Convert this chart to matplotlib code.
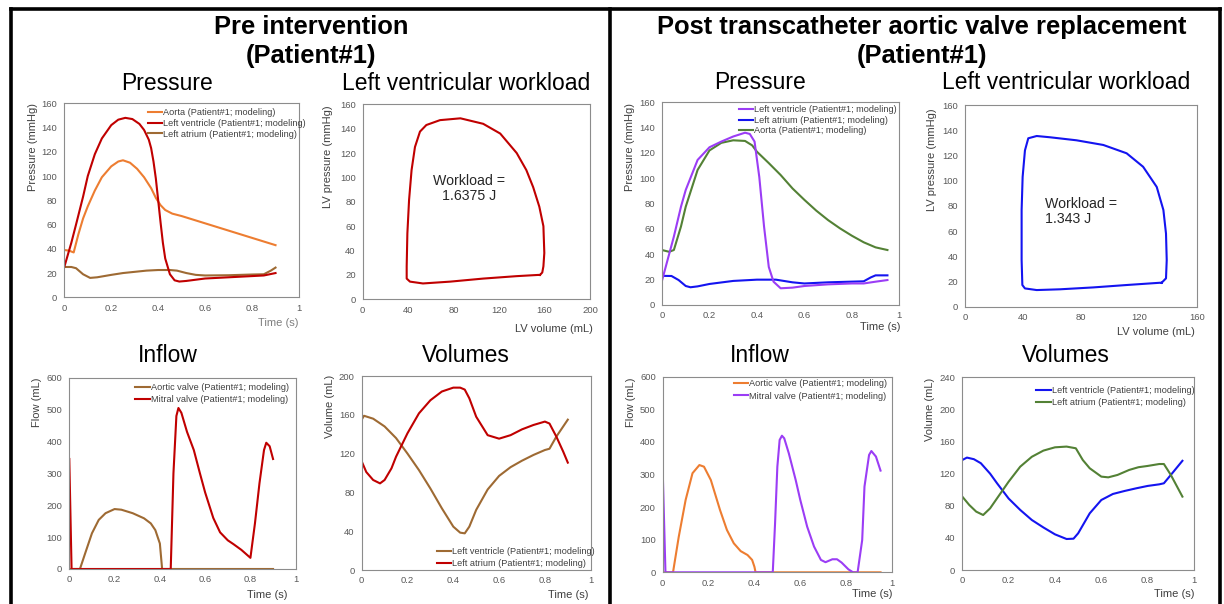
import matplotlib
matplotlib.use("Agg")
import matplotlib.pyplot as plt
from matplotlib.lines import Line2D

plt.rcParams['font.family'] = ['Liberation Sans', 'DejaVu Sans']

# ---------------- DATA ----------------
# Pre intervention - Pressure
pre_p_aorta_t = [0, 0.02, 0.04, 0.06, 0.08, 0.10, 0.13, 0.16, 0.20, 0.23, 0.25, 0.28, 0.31, 0.34, 0.37, 0.39, 0.41, 0.43, 0.46, 0.50, 0.60, 0.70, 0.80, 0.90]
pre_p_aorta   = [39, 38.5, 37, 52, 65, 75, 88, 99, 108, 112, 113, 111, 106, 99, 90, 82, 76, 72, 69, 67, 61, 55, 49, 43]
pre_p_lv_t = [0, 0.03, 0.05, 0.08, 0.10, 0.13, 0.16, 0.20, 0.23, 0.26, 0.29, 0.32, 0.34, 0.36, 0.37, 0.38, 0.39, 0.40, 0.41, 0.42, 0.43, 0.45, 0.47, 0.49, 0.52, 0.60, 0.70, 0.80, 0.85, 0.90]
pre_p_lv   = [25, 45, 60, 83, 100, 118, 131, 142, 146.5, 148, 147, 143, 138, 130, 123, 112, 98, 80, 62, 45, 32, 19, 14, 13, 13.5, 15.5, 16.5, 17.5, 18, 20]
pre_p_la_t = [0, 0.03, 0.05, 0.08, 0.11, 0.14, 0.20, 0.25, 0.30, 0.35, 0.40, 0.45, 0.48, 0.52, 0.56, 0.60, 0.70, 0.80, 0.85, 0.88, 0.90]
pre_p_la   = [25, 25, 24, 19, 16, 16.5, 18.5, 20, 21, 22, 22.5, 22.5, 22, 20, 18.5, 18, 18.2, 18.8, 19, 22, 24.5]

# Pre intervention - PV loop
pre_pv_vol = [156, 158, 159, 159.8, 159, 155.4, 150, 144, 135.5, 121, 106, 86, 68, 56, 50.4, 46, 43, 40.8, 39.3, 38.7, 38.7, 41.6, 53, 77, 106, 135.5, 154.5, 156]
pre_pv_prs = [20, 22, 27, 38, 60, 76, 92, 106, 120, 136, 144, 148.5, 147, 143, 137.6, 125, 106, 81.5, 54, 27, 17, 14.5, 13, 14.5, 17, 19, 20, 20]

# Pre intervention - Inflow
pre_f_aortic_t = [0, 0.047, 0.07, 0.10, 0.13, 0.16, 0.20, 0.23, 0.28, 0.33, 0.36, 0.38, 0.40, 0.41, 0.45, 0.90]
pre_f_aortic   = [0, 0, 49, 112, 154, 175, 188, 186, 175, 159, 143, 122, 80, 0, 0, 0]
pre_f_mitral_t = [0, 0.01, 0.448, 0.46, 0.473, 0.482, 0.495, 0.52, 0.55, 0.577, 0.60, 0.636, 0.666, 0.70, 0.725, 0.76, 0.80, 0.82, 0.84, 0.86, 0.87, 0.885, 0.90]
pre_f_mitral   = [345, 0, 0, 300, 480, 505, 490, 430, 373, 300, 240, 160, 115, 90, 78, 60, 35, 143, 269, 373, 396, 385, 345]

# Pre intervention - Volumes
pre_v_t = [0, 0.01, 0.05, 0.10, 0.15, 0.20, 0.25, 0.30, 0.35, 0.40, 0.43, 0.45, 0.47, 0.50, 0.55, 0.60, 0.65, 0.70, 0.75, 0.80, 0.82, 0.85, 0.90]
pre_v_lv = [155, 159, 156, 148, 136, 120, 103, 84, 63.6, 44.7, 38.5, 37.8, 44.7, 62, 83, 97, 106, 112.7, 118.6, 123.7, 125, 137.5, 155]
pre_v_la_t = [0, 0.02, 0.05, 0.08, 0.10, 0.13, 0.15, 0.20, 0.25, 0.30, 0.35, 0.40, 0.43, 0.45, 0.47, 0.50, 0.55, 0.60, 0.65, 0.70, 0.75, 0.80, 0.82, 0.85, 0.88, 0.90]
pre_v_la = [112, 101, 92.8, 89.3, 92.8, 104.8, 116.8, 141, 161.5, 175, 184, 188, 188, 186, 177, 158, 139, 135.4, 139, 145, 149.5, 153, 151, 137.5, 122, 110.7]

# Post TAVR - Pressure
post_p_lv_t = [0, 0.05, 0.08, 0.10, 0.15, 0.20, 0.25, 0.30, 0.35, 0.37, 0.39, 0.41, 0.43, 0.45, 0.47, 0.50, 0.55, 0.60, 0.70, 0.80, 0.85, 0.90, 0.95]
post_p_lv   = [19.2, 54, 77.6, 90.8, 114.5, 124.5, 129, 133, 136, 135, 129, 101, 62, 30, 18.4, 13.2, 13.7, 15, 16.3, 17, 17, 18.4, 19.7]
post_p_ao_t = [0, 0.03, 0.05, 0.08, 0.10, 0.15, 0.20, 0.25, 0.30, 0.35, 0.38, 0.40, 0.45, 0.50, 0.55, 0.60, 0.65, 0.70, 0.75, 0.80, 0.85, 0.90, 0.95]
post_p_ao   = [43.4, 42, 43.4, 62, 77.6, 106.6, 122, 128, 130, 129.5, 126, 121, 112, 102.6, 92, 83, 74.5, 67, 60.5, 54.7, 49.5, 45.5, 43.4]
post_p_la_t = [0, 0.04, 0.07, 0.10, 0.12, 0.15, 0.20, 0.30, 0.40, 0.48, 0.55, 0.60, 0.70, 0.85, 0.88, 0.90, 0.95]
post_p_la   = [23, 22.9, 19.7, 15, 14, 14.7, 16.6, 19, 20, 20, 17.9, 17, 17.9, 18.7, 21.8, 23.4, 23.4]

# Post TAVR - PV loop
post_pv_vol = [135.8, 138.8, 139.3, 138.8, 137, 132.4, 123, 111.6, 95.5, 77, 58.7, 49.5, 43.7, 41.4, 39.8, 39.1, 39.1, 39.6, 41.4, 49.5, 65.6, 88.6, 111.6, 134.7, 135.8]
post_pv_prs = [19, 22.5, 37, 58, 76.7, 95, 111, 121.7, 128.3, 132, 134.4, 135.4, 133.6, 124, 103, 76.7, 37, 17.2, 14.5, 13.2, 13.8, 15.3, 17.2, 19, 19]

# Post TAVR - Inflow
post_f_aortic_t = [0, 0.045, 0.07, 0.10, 0.13, 0.16, 0.18, 0.21, 0.25, 0.28, 0.31, 0.34, 0.37, 0.39, 0.40, 0.405, 0.50, 0.95]
post_f_aortic   = [0, 0, 109, 222, 304, 329, 324, 283, 191, 130, 89, 65, 53, 38, 17, 0, 0, 0]
post_f_mitral_t = [0, 0.012, 0.48, 0.49, 0.50, 0.51, 0.52, 0.53, 0.55, 0.58, 0.60, 0.63, 0.66, 0.69, 0.71, 0.74, 0.76, 0.78, 0.81, 0.83, 0.85, 0.87, 0.88, 0.90, 0.91, 0.93, 0.95]
post_f_mitral   = [312, 0, 0, 150, 324, 406, 419, 411, 365, 283, 222, 140, 79, 38, 31, 40, 40, 30, 9, 0, 0, 99, 263, 360, 372, 355, 312]

# Post TAVR - Volumes
post_v_lv_t = [0, 0.02, 0.05, 0.08, 0.12, 0.15, 0.20, 0.25, 0.30, 0.35, 0.40, 0.45, 0.48, 0.50, 0.55, 0.60, 0.65, 0.70, 0.75, 0.80, 0.85, 0.87, 0.90, 0.95]
post_v_lv   = [137, 140, 138, 133, 120, 108, 89, 74.8, 62.3, 53, 44.4, 38.6, 39, 45.7, 70.6, 87.2, 94.7, 98.4, 101.7, 104.7, 106.7, 108, 118.4, 136]
post_v_la_t = [0, 0.03, 0.06, 0.09, 0.12, 0.15, 0.20, 0.25, 0.30, 0.35, 0.40, 0.45, 0.49, 0.52, 0.55, 0.60, 0.63, 0.67, 0.72, 0.76, 0.80, 0.85, 0.87, 0.90, 0.95]
post_v_la   = [91.4, 81, 72.7, 68.5, 76.8, 89.3, 110, 128.7, 141, 148.7, 152.8, 153.7, 151.6, 137, 126.7, 116.3, 115.4, 118.4, 124.6, 128, 129.6, 132, 132, 118.4, 91.4]

time_ticks = [0, 0.2, 0.4, 0.6, 0.8, 1]
time_ticklabels = ['0', '0.2', '0.4', '0.6', '0.8', '1']

# ---------------- STYLE ----------------
C_ORANGE = '#ED7D31'
C_DRED = '#C00000'
C_BROWN = '#9E6A33'
C_PURPLE = '#9B3DF5'
C_BLUE = '#1414F0'
C_GREEN = '#538135'
TICK_C = '#595959'
LAB_C = '#404040'
SPINE_C = '#8C8C8C'
LW = 1.5

W, H = 1224, 604
fig = plt.figure(figsize=(W / 100, H / 100), dpi=100)


def add_ax(l, t, r, b):
    return fig.add_axes([l / W, 1 - b / H, (r - l) / W, (b - t) / H])


def ftext(x, y, s, **kw):
    fig.text(x / W, 1 - y / H, s, **kw)


def style(ax, xlim, ylim, xticks, yticks, xtl=None):
    ax.set_xlim(*xlim)
    ax.set_ylim(*ylim)
    ax.set_xticks(xticks)
    if xtl is not None:
        ax.set_xticklabels(xtl)
    ax.set_yticks(yticks)
    ax.tick_params(length=0, labelsize=6.8, labelcolor=TICK_C)
    ax.tick_params(axis='x', pad=4.5)
    ax.tick_params(axis='y', pad=5)
    for s in ax.spines.values():
        s.set_color(SPINE_C)
        s.set_linewidth(0.8)


def legend(ax, handles, labels, x, y, spacing=0.25):
    ax.legend(handles, labels, loc='upper left',
              bbox_to_anchor=(x / W, 1 - y / H), bbox_transform=fig.transFigure,
              frameon=False, fontsize=6.6, handlelength=1.6, handletextpad=0.1,
              borderpad=0, borderaxespad=0, labelspacing=spacing, labelcolor=LAB_C)


def h(c):
    return Line2D([0], [0], color=c, lw=LW)


LAB_FS = 8
SUB_FS = 16.5

# ---- Panel 1: Pre pressure
ax1 = add_ax(64.3, 103.3, 299, 297.3)
ax1.plot(pre_p_aorta_t, pre_p_aorta, color=C_ORANGE, lw=LW)
ax1.plot(pre_p_la_t, pre_p_la, color=C_BROWN, lw=LW)
ax1.plot(pre_p_lv_t, pre_p_lv, color=C_DRED, lw=LW)
style(ax1, (0, 1), (0, 160), time_ticks, range(0, 161, 20), time_ticklabels)
legend(ax1, [h(C_ORANGE), h(C_DRED), h(C_BROWN)],
       ['Aorta (Patient#1; modeling)', 'Left ventricle (Patient#1; modeling)', 'Left atrium (Patient#1; modeling)'],
       147.7, 108, 0.2)
ftext(33, 147.5, 'Pressure (mmHg)', rotation=90, ha='center', va='center', fontsize=LAB_FS, color=LAB_C)
ftext(298, 322.7, 'Time (s)', ha='right', va='center', fontsize=LAB_FS, color='#7F7F7F')
ftext(167, 83, 'Pressure', ha='center', va='center', fontsize=SUB_FS)

# ---- Panel 2: Pre PV loop
ax2 = add_ax(362.7, 104.3, 590, 299.3)
ax2.plot(pre_pv_vol, pre_pv_prs, color=C_DRED, lw=LW)
style(ax2, (0, 200), (0, 160), range(0, 201, 40), range(0, 161, 20))
ax2.text(93.5, 91, 'Workload =\n1.6375 J', ha='center', va='center', fontsize=10.2,
         color='#262626', linespacing=1.15)
ftext(328, 156.7, 'LV pressure (mmHg)', rotation=90, ha='center', va='center', fontsize=LAB_FS, color=LAB_C)
ftext(592.5, 329.3, 'LV volume (mL)', ha='right', va='center', fontsize=LAB_FS, color=LAB_C)
ftext(466, 83, 'Left ventricular workload', ha='center', va='center', fontsize=SUB_FS)

# ---- Panel 3: Pre inflow
ax3 = add_ax(69.3, 377.7, 295.7, 569)
ax3.plot(pre_f_aortic_t, pre_f_aortic, color=C_BROWN, lw=LW)
ax3.plot(pre_f_mitral_t, pre_f_mitral, color=C_DRED, lw=LW)
style(ax3, (0, 1), (0, 600), time_ticks, range(0, 601, 100), time_ticklabels)
legend(ax3, [h(C_BROWN), h(C_DRED)],
       ['Aortic valve (Patient#1; modeling)', 'Mitral valve (Patient#1; modeling)'], 135, 383, 0.35)
ftext(36.7, 402.5, 'Flow (mL)', rotation=90, ha='center', va='center', fontsize=LAB_FS, color=LAB_C)
ftext(287.3, 595, 'Time (s)', ha='right', va='center', fontsize=LAB_FS, color=LAB_C)
ftext(167.7, 355, 'Inflow', ha='center', va='center', fontsize=SUB_FS)

# ---- Panel 4: Pre volumes
ax4 = add_ax(361.7, 376, 590.7, 570)
ax4.plot(pre_v_t, pre_v_lv, color=C_BROWN, lw=LW)
ax4.plot(pre_v_la_t, pre_v_la, color=C_DRED, lw=LW)
style(ax4, (0, 1), (0, 200), time_ticks, range(0, 201, 40), time_ticklabels)
legend(ax4, [h(C_BROWN), h(C_DRED)],
       ['Left ventricle (Patient#1; modeling)', 'Left atrium (Patient#1; modeling)'], 436.7, 547, 0.3)
ftext(330, 406.7, 'Volume (mL)', rotation=90, ha='center', va='center', fontsize=LAB_FS, color=LAB_C)
ftext(588.3, 595, 'Time (s)', ha='right', va='center', fontsize=LAB_FS, color=LAB_C)
ftext(466, 355, 'Volumes', ha='center', va='center', fontsize=SUB_FS)

# ---- Panel 5: Post pressure
ax5 = add_ax(662, 102.3, 899.3, 305)
ax5.plot(post_p_ao_t, post_p_ao, color=C_GREEN, lw=LW)
ax5.plot(post_p_la_t, post_p_la, color=C_BLUE, lw=LW)
ax5.plot(post_p_lv_t, post_p_lv, color=C_PURPLE, lw=LW)
style(ax5, (0, 1), (0, 160), time_ticks, range(0, 161, 20), time_ticklabels)
legend(ax5, [h(C_PURPLE), h(C_BLUE), h(C_GREEN)],
       ['Left ventricle (Patient#1; modeling)', 'Left atrium (Patient#1; modeling)', 'Aorta (Patient#1; modeling)'],
       738.7, 105.5, 0.15)
ftext(629.7, 147.5, 'Pressure (mmHg)', rotation=90, ha='center', va='center', fontsize=LAB_FS, color=LAB_C)
ftext(900.3, 326.7, 'Time (s)', ha='right', va='center', fontsize=LAB_FS, color=LAB_C)
ftext(760, 82.7, 'Pressure', ha='center', va='center', fontsize=SUB_FS)

# ---- Panel 6: Post PV loop
ax6 = add_ax(965, 105, 1196.7, 306.7)
ax6.plot(post_pv_vol, post_pv_prs, color=C_BLUE, lw=LW)
style(ax6, (0, 160), (0, 160), range(0, 161, 40), range(0, 161, 20))
ax6.text(55.2, 75.5, 'Workload =\n1.343 J', ha='left', va='center', fontsize=10.2,
         color='#262626', linespacing=1.15)
ftext(932.3, 160, 'LV pressure (mmHg)', rotation=90, ha='center', va='center', fontsize=LAB_FS, color=LAB_C)
ftext(1195, 331.7, 'LV volume (mL)', ha='right', va='center', fontsize=LAB_FS, color=LAB_C)
ftext(1066, 82.7, 'Left ventricular workload', ha='center', va='center', fontsize=SUB_FS)

# ---- Panel 7: Post inflow
ax7 = add_ax(662.7, 376.7, 892, 572.3)
ax7.plot(post_f_aortic_t, post_f_aortic, color=C_ORANGE, lw=LW)
ax7.plot(post_f_mitral_t, post_f_mitral, color=C_PURPLE, lw=LW)
style(ax7, (0, 1), (0, 600), time_ticks, range(0, 601, 100), time_ticklabels)
legend(ax7, [h(C_ORANGE), h(C_PURPLE)],
       ['Aortic valve (Patient#1; modeling)', 'Mitral valve (Patient#1; modeling)'], 733.7, 379, 0.4)
ftext(630.7, 402, 'Flow (mL)', rotation=90, ha='center', va='center', fontsize=LAB_FS, color=LAB_C)
ftext(892, 594, 'Time (s)', ha='right', va='center', fontsize=LAB_FS, color=LAB_C)
ftext(760, 355, 'Inflow', ha='center', va='center', fontsize=SUB_FS)

# ---- Panel 8: Post volumes
ax8 = add_ax(962.3, 377.3, 1194, 570)
ax8.plot(post_v_lv_t, post_v_lv, color=C_BLUE, lw=LW)
ax8.plot(post_v_la_t, post_v_la, color=C_GREEN, lw=LW)
style(ax8, (0, 1), (0, 240), time_ticks, range(0, 241, 40), time_ticklabels)
legend(ax8, [h(C_BLUE), h(C_GREEN)],
       ['Left ventricle (Patient#1; modeling)', 'Left atrium (Patient#1; modeling)'], 1036, 386, 0.35)
ftext(930, 409, 'Volume (mL)', rotation=90, ha='center', va='center', fontsize=LAB_FS, color=LAB_C)
ftext(1194, 594, 'Time (s)', ha='right', va='center', fontsize=LAB_FS, color=LAB_C)
ftext(1066, 355.7, 'Volumes', ha='center', va='center', fontsize=SUB_FS)

# ---- Main titles
TFS = 18.4
ftext(311, 27, 'Pre intervention', ha='center', va='center', fontsize=TFS, fontweight='bold')
ftext(311, 56, '(Patient#1)', ha='center', va='center', fontsize=TFS, fontweight='bold')
ftext(922, 27, 'Post transcatheter aortic valve replacement', ha='center', va='center', fontsize=TFS, fontweight='bold')
ftext(922, 56, '(Patient#1)', ha='center', va='center', fontsize=TFS, fontweight='bold')

# ---- Frame lines
BLW = 2.6
for xs, ys in [([11, 11], [9, 620]), ([609.5, 609.5], [9, 620]), ([1219.5, 1219.5], [9, 620]), ([11, 1219.5], [9, 9])]:
    fig.add_artist(Line2D([x / W for x in xs], [1 - y / H for y in ys], color='black', lw=BLW,
                          transform=fig.transFigure, solid_capstyle='projecting'))

fig.savefig('out.png', dpi=100, facecolor='white')
